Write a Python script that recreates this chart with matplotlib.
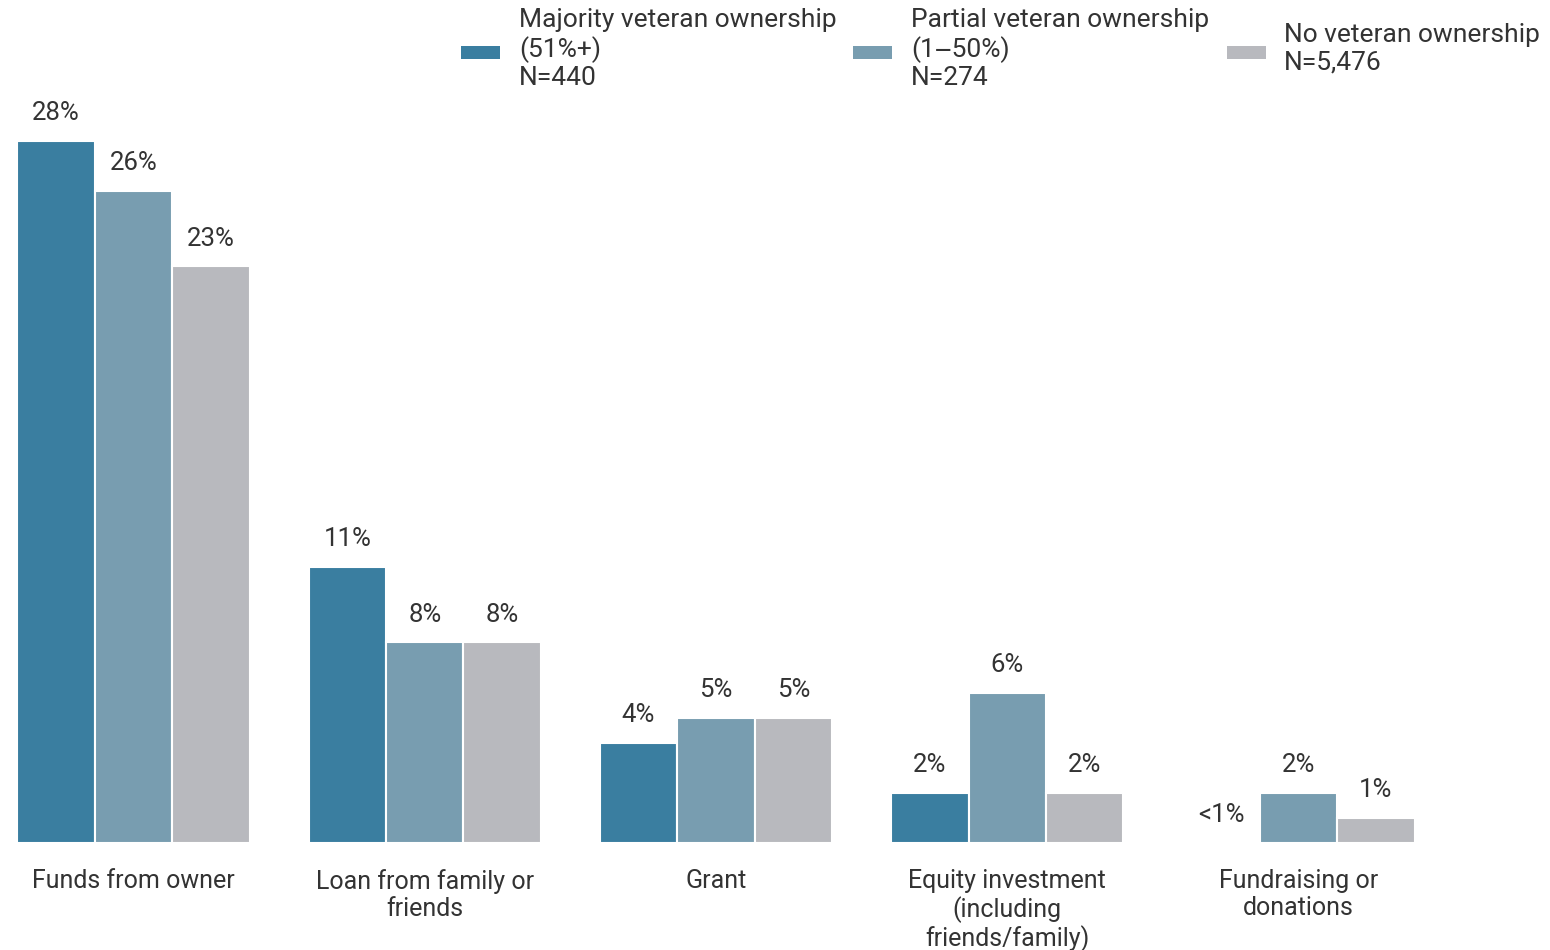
import matplotlib
matplotlib.use("Agg")
import matplotlib.pyplot as plt
from matplotlib.patches import Rectangle
import numpy as np

plt.rcParams['font.family'] = ['Roboto', 'DejaVu Sans']

categories = ["Funds from owner", "Loan from family or\nfriends", "Grant",
              "Equity investment\n(including\nfriends/family)", "Fundraising or\ndonations"]
series_names = ["Majority veteran ownership\n(51%+)\nN=440",
                "Partial veteran ownership\n(1\u201250%)\nN=274",
                "No veteran ownership\nN=5,476"]
majority = [28, 11, 4, 2, 0]
partial = [26, 8, 5, 6, 2]
none_vet = [23, 8, 5, 2, 1]
majority_labels = ["28%", "11%", "4%", "2%", "<1%"]
partial_labels = ["26%", "8%", "5%", "6%", "2%"]
none_labels = ["23%", "8%", "5%", "2%", "1%"]
colors = ["#3A7EA0", "#789DB0", "#B8B9BE"]
text_color = "#333333"

fig = plt.figure(figsize=(15.5, 9.5), dpi=100)
W, H = 1550, 950
ax = fig.add_axes([17 / W, 107 / H, (1415 - 17) / W, (843 - 141) / H])

x = np.arange(len(categories))
bw = 0.266
data = [majority, partial, none_vet]
labels = [majority_labels, partial_labels, none_labels]
for i, (vals, labs) in enumerate(zip(data, labels)):
    pos = x + (i - 1) * bw
    bars = ax.bar(pos, vals, width=bw, color=colors[i], edgecolor="white",
                  linewidth=1.5, label=series_names[i])
    for b, lab in zip(bars, labs):
        ax.annotate(lab, (b.get_x() + b.get_width() / 2, b.get_height()),
                    xytext=(0, 20), textcoords="offset points",
                    ha="center", va="center", fontsize=18.5, color=text_color,
                    annotation_clip=False)

ax.set_xlim(-0.4, len(categories) - 0.6)
ax.set_ylim(0, 28)
ax.set_xticks(x)
ax.set_xticklabels(categories, fontsize=18, color=text_color, linespacing=1.12)
ax.tick_params(axis="x", length=0, pad=19)
ax.set_yticks([])
for s in ax.spines.values():
    s.set_visible(False)

# legend (manual layout)
handle_x = [461, 853, 1227]
text_x = [519, 911, 1284]
for hx, tx, c, name in zip(handle_x, text_x, colors, series_names):
    fig.patches.append(Rectangle((hx / W, 1 - 59 / H), 39 / W, 13 / H,
                                 transform=fig.transFigure, facecolor=c,
                                 edgecolor="none"))
    fig.text(tx / W, 1 - 49 / H, name, ha="left", va="center", fontsize=19,
             color=text_color, linespacing=1.18)

fig.savefig("out.png", dpi=100, facecolor="white")
